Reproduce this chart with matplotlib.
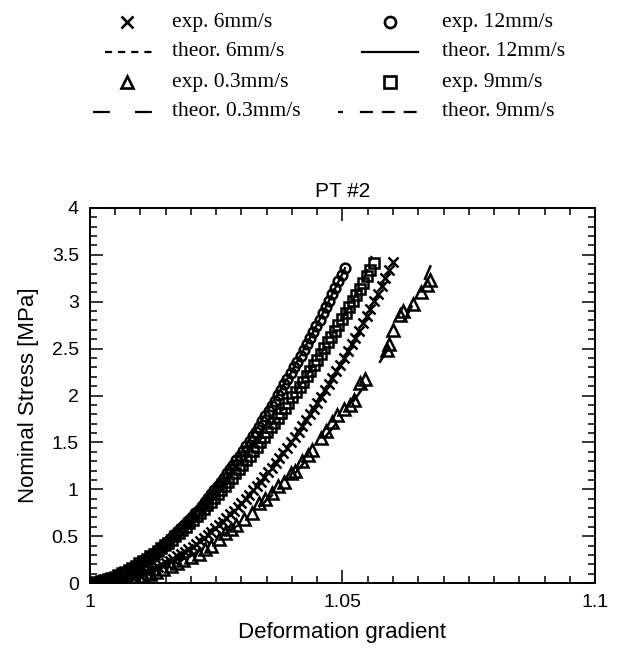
import matplotlib
matplotlib.use('Agg')
import matplotlib.pyplot as plt
from matplotlib.ticker import MultipleLocator

plt.rcParams['font.family'] = ['Liberation Sans', 'DejaVu Sans']

# exp. 12mm/s (circles)
lam_12 = [1.0000, 1.0006, 1.0013, 1.0019, 1.0025, 1.0032, 1.0038, 1.0044, 1.0050, 1.0057,
          1.0063, 1.0069, 1.0076, 1.0082, 1.0088, 1.0095, 1.0101, 1.0107, 1.0114, 1.0120,
          1.0126, 1.0132, 1.0139, 1.0145, 1.0152, 1.0158, 1.0164, 1.0170, 1.0177, 1.0183,
          1.0189, 1.0196, 1.0202, 1.0208, 1.0215, 1.0221, 1.0227, 1.0233, 1.0240, 1.0246,
          1.0253, 1.0259, 1.0265, 1.0271, 1.0278, 1.0284, 1.0290, 1.0297, 1.0303, 1.0309,
          1.0316, 1.0322, 1.0328, 1.0334, 1.0341, 1.0347, 1.0354, 1.0360, 1.0366, 1.0372,
          1.0379, 1.0385, 1.0391, 1.0398, 1.0404, 1.0410, 1.0417, 1.0423, 1.0429, 1.0436,
          1.0442, 1.0448, 1.0455, 1.0461, 1.0467, 1.0473, 1.0480, 1.0486, 1.0492, 1.0499, 1.0505]
sig_12 = [0.000, 0.003, 0.006, 0.013, 0.020, 0.030, 0.041, 0.054, 0.067, 0.082,
          0.098, 0.115, 0.133, 0.153, 0.174, 0.196, 0.218, 0.242, 0.266, 0.292,
          0.318, 0.346, 0.374, 0.404, 0.434, 0.465, 0.497, 0.530, 0.564, 0.599,
          0.634, 0.671, 0.708, 0.746, 0.784, 0.824, 0.865, 0.906, 0.948, 0.991,
          1.034, 1.079, 1.124, 1.170, 1.216, 1.263, 1.311, 1.360, 1.410, 1.460,
          1.511, 1.563, 1.616, 1.669, 1.723, 1.778, 1.833, 1.889, 1.945, 2.002,
          2.060, 2.119, 2.179, 2.239, 2.299, 2.361, 2.423, 2.486, 2.549, 2.613,
          2.678, 2.743, 2.809, 2.876, 2.943, 3.011, 3.079, 3.149, 3.219, 3.289, 3.360]

# exp. 9mm/s (squares)
lam_9 = [1.0000, 1.0007, 1.0014, 1.0021, 1.0028, 1.0035, 1.0042, 1.0049, 1.0056, 1.0063,
         1.0070, 1.0077, 1.0084, 1.0091, 1.0098, 1.0105, 1.0112, 1.0119, 1.0126, 1.0134,
         1.0141, 1.0148, 1.0155, 1.0162, 1.0169, 1.0176, 1.0183, 1.0190, 1.0197, 1.0204,
         1.0211, 1.0218, 1.0225, 1.0232, 1.0239, 1.0246, 1.0253, 1.0260, 1.0267, 1.0274,
         1.0281, 1.0288, 1.0295, 1.0302, 1.0309, 1.0316, 1.0323, 1.0330, 1.0337, 1.0344,
         1.0351, 1.0358, 1.0365, 1.0372, 1.0379, 1.0386, 1.0393, 1.0400, 1.0407, 1.0415,
         1.0422, 1.0429, 1.0436, 1.0443, 1.0450, 1.0457, 1.0464, 1.0471, 1.0478, 1.0485,
         1.0492, 1.0499, 1.0506, 1.0513, 1.0520, 1.0527, 1.0534, 1.0541, 1.0548, 1.0555, 1.0562]
sig_9 = [0.000, 0.003, 0.009, 0.018, 0.028, 0.040, 0.054, 0.069, 0.086, 0.103,
         0.122, 0.143, 0.164, 0.186, 0.210, 0.234, 0.260, 0.286, 0.313, 0.341,
         0.371, 0.401, 0.432, 0.463, 0.497, 0.530, 0.564, 0.600, 0.635, 0.672,
         0.710, 0.747, 0.787, 0.827, 0.867, 0.907, 0.950, 0.993, 1.037, 1.080,
         1.124, 1.170, 1.216, 1.262, 1.309, 1.358, 1.406, 1.455, 1.505, 1.556,
         1.606, 1.659, 1.710, 1.762, 1.816, 1.870, 1.925, 1.981, 2.035, 2.095,
         2.149, 2.209, 2.265, 2.325, 2.384, 2.442, 2.506, 2.567, 2.629, 2.688,
         2.750, 2.817, 2.880, 2.941, 3.006, 3.070, 3.141, 3.205, 3.273, 3.334, 3.410]

# exp. 6mm/s (crosses)
lam_6 = [1.0000, 1.0008, 1.0015, 1.0023, 1.0030, 1.0038, 1.0045, 1.0053, 1.0060, 1.0068,
         1.0075, 1.0083, 1.0090, 1.0098, 1.0105, 1.0113, 1.0120, 1.0128, 1.0135, 1.0143,
         1.0150, 1.0158, 1.0165, 1.0173, 1.0180, 1.0188, 1.0195, 1.0203, 1.0210, 1.0218,
         1.0225, 1.0233, 1.0240, 1.0248, 1.0255, 1.0263, 1.0270, 1.0278, 1.0285, 1.0293,
         1.0300, 1.0308, 1.0315, 1.0323, 1.0330, 1.0338, 1.0345, 1.0353, 1.0360, 1.0368,
         1.0375, 1.0383, 1.0390, 1.0398, 1.0405, 1.0413, 1.0420, 1.0428, 1.0435, 1.0443,
         1.0450, 1.0458, 1.0465, 1.0473, 1.0480, 1.0488, 1.0495, 1.0503, 1.0510, 1.0518,
         1.0525, 1.0533, 1.0540, 1.0548, 1.0555, 1.0563, 1.0570, 1.0578, 1.0585, 1.0593, 1.0600]
sig_6 = [0.000, 0.001, 0.002, 0.005, 0.009, 0.013, 0.019, 0.026, 0.034, 0.043,
         0.053, 0.065, 0.077, 0.090, 0.105, 0.120, 0.137, 0.154, 0.173, 0.193,
         0.214, 0.236, 0.259, 0.283, 0.308, 0.334, 0.361, 0.389, 0.419, 0.449,
         0.481, 0.513, 0.547, 0.582, 0.618, 0.655, 0.693, 0.732, 0.772, 0.813,
         0.855, 0.898, 0.943, 0.988, 1.035, 1.082, 1.131, 1.180, 1.231, 1.283,
         1.336, 1.390, 1.445, 1.501, 1.558, 1.616, 1.676, 1.736, 1.798, 1.860,
         1.924, 1.989, 2.054, 2.121, 2.189, 2.258, 2.328, 2.399, 2.471, 2.544,
         2.618, 2.693, 2.770, 2.847, 2.926, 3.005, 3.087, 3.168, 3.251, 3.335, 3.420]

# exp. 0.3mm/s (triangles)
lam_03 = [1.0000, 1.0015, 1.0030, 1.0045, 1.0060, 1.0075, 1.0090, 1.0104, 1.0118, 1.0130,
          1.0145, 1.0160, 1.0172, 1.0185, 1.0200, 1.0215, 1.0228, 1.0240, 1.0255, 1.0268,
          1.0280, 1.0290, 1.0305, 1.0320, 1.0335, 1.0346, 1.0360, 1.0373, 1.0385, 1.0398,
          1.0405, 1.0420, 1.0431, 1.0440, 1.0457, 1.0468, 1.0480, 1.0490, 1.0503, 1.0515,
          1.0523, 1.0535, 1.0545, 1.0588, 1.0592, 1.0600, 1.0614, 1.0620, 1.0640, 1.0655,
          1.0668, 1.0673]
sig_03 = [0.000, 0.005, 0.010, 0.020, 0.030, 0.040, 0.050, 0.070, 0.100, 0.120,
          0.150, 0.180, 0.210, 0.250, 0.280, 0.310, 0.360, 0.400, 0.470, 0.530,
          0.580, 0.620, 0.680, 0.750, 0.850, 0.900, 0.960, 1.030, 1.080, 1.170,
          1.200, 1.300, 1.370, 1.420, 1.550, 1.620, 1.720, 1.790, 1.860, 1.900,
          1.950, 2.130, 2.180, 2.490, 2.550, 2.700, 2.860, 2.900, 2.980, 3.100,
          3.180, 3.230]

# theoretical curves
th_lam_12 = [1.0, 1.01, 1.02, 1.03, 1.04, 1.045, 1.05, 1.0505]
th_sig_12 = [0.0, 0.21, 0.69, 1.39, 2.26, 2.76, 3.30, 3.36]
th_lam_9 = [1.0, 1.01, 1.02, 1.03, 1.04, 1.045, 1.05, 1.054, 1.0555, 1.0562]
th_sig_9 = [0.0, 0.22, 0.66, 1.26, 1.98, 2.38, 2.82, 3.20, 3.42, 3.62]
th_lam_6 = [1.0, 1.01, 1.02, 1.03, 1.04, 1.05, 1.055, 1.0601]
th_sig_6 = [0.0, 0.09, 0.38, 0.85, 1.52, 2.37, 2.86, 3.42]
th_lam_03 = [1.0, 1.01, 1.02, 1.03, 1.04, 1.05, 1.055, 1.06, 1.065, 1.0675]
th_sig_03 = [0.0, 0.07, 0.29, 0.64, 1.13, 1.78, 2.15, 2.58, 3.08, 3.39]

ls_6 = (0, (3.2, 2.7))
ls_03 = (0, (7.6, 11.3))
ls_9 = (0, (2.25, 7.6, 5.85, 4, 5.85, 4, 5.85, 4))

fig = plt.figure(figsize=(6.18, 6.52), dpi=100)
ax = fig.add_axes([0.1456, 0.1058, 0.8172, 0.5752])

ax.plot(th_lam_12, th_sig_12, color='black', lw=1.6, ls='-')
ax.plot(th_lam_9, th_sig_9, color='black', lw=1.6, ls=ls_9)
ax.plot(th_lam_6, th_sig_6, color='black', lw=1.6, ls=ls_6)
ax.plot(th_lam_03, th_sig_03, color='black', lw=1.8, ls=ls_03)

ax.plot(lam_12, sig_12, ls='none', marker='o', ms=7, mfc='none', mec='black', mew=1.8)
ax.plot(lam_9, sig_9, ls='none', marker='s', ms=7.5, mfc='none', mec='black', mew=1.8)
ax.plot(lam_6, sig_6, ls='none', marker='x', ms=7.5, mec='black', mew=1.8)
ax.plot(lam_03, sig_03, ls='none', marker='^', ms=9, mfc='none', mec='black', mew=1.8)

ax.set_xlim(1, 1.1)
ax.set_ylim(0, 4)
ax.set_xticks([1, 1.05, 1.1])
ax.set_xticklabels(['1', '1.05', '1.1'])
ax.set_yticks([0, 0.5, 1, 1.5, 2, 2.5, 3, 3.5, 4])
ax.set_yticklabels(['0', '0.5', '1', '1.5', '2', '2.5', '3', '3.5', '4'])
ax.xaxis.set_minor_locator(MultipleLocator(0.005))
ax.yaxis.set_minor_locator(MultipleLocator(0.1))
ax.tick_params(which='both', direction='in', top=True, right=True, width=1.1, labelsize=14)
ax.tick_params(which='major', length=9.5, pad=8)
ax.tick_params(which='minor', length=5)
for sp in ax.spines.values():
    sp.set_linewidth(1.4)

ax.set_xlabel('Deformation gradient', fontsize=16, labelpad=8)
ax.set_ylabel('Nominal Stress [MPa]', fontsize=16)
ax.yaxis.set_label_coords(-0.1, 0.5)
ax.set_title('PT #2', fontsize=15, pad=8)

# legend drawn in figure pixel space
lg = fig.add_axes([0, 0, 1, 1], facecolor='none')
lg.set_xlim(0, 618)
lg.set_ylim(652, 0)
lg.axis('off')
serif = ['Liberation Serif', 'DejaVu Serif']
rows = [22, 52, 82, 112]
lg.plot([127], [rows[0]], marker='x', ms=8, mec='black', mew=1.9)
lg.plot([105, 153], [rows[1], rows[1]], color='black', lw=1.6, ls=ls_6)
lg.plot([127], [rows[2]], marker='^', ms=8, mfc='none', mec='black', mew=1.9)
lg.plot([93, 153], [rows[3], rows[3]], color='black', lw=1.6, ls=ls_03)
lg.plot([390], [rows[0]], marker='o', ms=8, mfc='none', mec='black', mew=1.9)
lg.plot([362, 418], [rows[1], rows[1]], color='black', lw=1.6, ls='-')
lg.plot([390], [rows[2]], marker='s', ms=8, mfc='none', mec='black', mew=1.9)
lg.plot([338, 418], [rows[3], rows[3]], color='black', lw=1.6, ls=ls_9)
labels_left = ['exp. 6mm/s', 'theor. 6mm/s', 'exp. 0.3mm/s', 'theor. 0.3mm/s']
labels_right = ['exp. 12mm/s', 'theor. 12mm/s', 'exp. 9mm/s', 'theor. 9mm/s']
for r, t in zip(rows, labels_left):
    lg.text(172, r, t, family=serif, fontsize=15.5, va='center', ha='left')
for r, t in zip(rows, labels_right):
    lg.text(442, r, t, family=serif, fontsize=15.5, va='center', ha='left')

fig.savefig('out.png', dpi=100)
